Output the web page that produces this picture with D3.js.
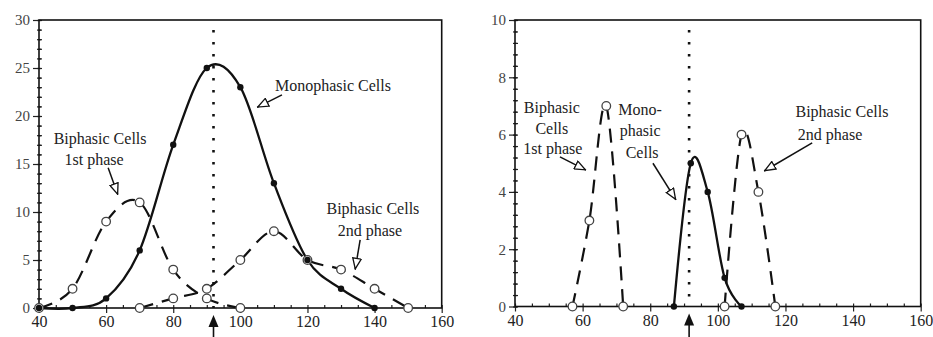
<!DOCTYPE html>
<html>
<head>
<meta charset="utf-8">
<script src="https://cdn.jsdelivr.net/npm/d3@7"></script>
<style>
  body { margin: 0; background: #fff; }
  svg { display: block; font-family: "Liberation Serif", "Times New Roman", serif; }
</style>
</head>
<body>
<svg id="chart" width="933" height="337"></svg>
<script>
// values, [x, y]
var leftMono   = [[40,0],[50,0],[60,1],[70,6],[80,17],[90,25],[100,23],[110,13],[120,5],[130,2],[140,0]];
var leftPhase1 = [[40,0],[50,2],[60,9],[70,11],[80,4],[90,1],[100,0]];
var leftPhase2 = [[70,0],[80,1],[90,2],[100,5],[110,8],[120,5],[130,4],[140,2],[150,0]];

var rightMono   = [[87,0],[92,5],[97,4],[102,1],[107,0]];
var rightPhase1 = [[57,0],[62,3],[67,7],[72,0]];
var rightPhase2 = [[102,0],[107,6],[112,4],[117,0]];

var xTicks = [40,60,80,100,120,140,160];
var leftYTicks = [0,5,10,15,20,25,30];
var rightYTicks = [0,2,4,6,8,10];
var leftMarker = 92, rightMarker = 91.5;

// annotation text lines and arrows (data coordinates)
var leftNotes = [
  {lines: [["Monophasic Cells", 127.6, 23.2]], from: [112.4, 22.2], to: [105.0, 20.9]},
  {lines: [["Biphasic Cells", 58.2, 17.7], ["1st phase", 56.4, 15.5]], from: [60.6, 14.6], to: [63.5, 11.8]},
  {lines: [["Biphasic Cells", 139.5, 10.4], ["2nd phase", 138.6, 8.1]], from: [135.7, 7.1], to: [134.2, 4.0]}
];
var rightNotes = [
  {lines: [["Biphasic", 50.9, 6.96], ["Cells", 50.9, 6.23], ["1st phase", 51.2, 5.53]], from: [53.3, 5.22], to: [61.0, 4.76]},
  {lines: [["Mono-", 77.0, 6.86], ["phasic", 77.0, 6.13], ["Cells", 77.6, 5.39]], from: [80.8, 5.0], to: [87.6, 3.72]},
  {lines: [["Biphasic Cells", 136.7, 6.79], ["2nd phase", 133.2, 5.99]], from: [127.9, 5.71], to: [113.7, 4.73]}
];

var FONT = '"Liberation Serif", "Times New Roman", serif';
var svg = d3.select("#chart");

var defs = svg.append("defs");
defs.append("marker")
  .attr("id", "openhead")
  .attr("viewBox", "0 0 12 10")
  .attr("refX", 12).attr("refY", 5)
  .attr("markerWidth", 12).attr("markerHeight", 10)
  .attr("markerUnits", "userSpaceOnUse")
  .attr("orient", "auto")
  .append("path")
  .attr("d", "M0.7,0.7 L11.3,5 L0.7,9.3 Z")
  .style("fill", "#fff").style("stroke", "#111").style("stroke-width", 1.3);

function drawPanel(cfg){
  var g = svg.append("g");
  var x = d3.scaleLinear().domain([40,160]).range([cfg.left, cfg.right]);
  var y = d3.scaleLinear().domain([0, cfg.yMax]).range([cfg.bottom, cfg.top]);

  // minor ticks
  g.append("g").attr("transform", "translate(0," + cfg.bottom + ")")
    .call(d3.axisBottom(x).tickValues(d3.range(40, 161, 5)).tickSize(-3).tickFormat(""))
    .call(function(a){ a.select(".domain").remove(); });
  g.append("g").attr("transform", "translate(" + cfg.left + ",0)")
    .call(d3.axisLeft(y).tickValues(d3.range(0, cfg.yMax + 0.001, cfg.yMinor)).tickSize(-3).tickFormat(""))
    .call(function(a){ a.select(".domain").remove(); });
  g.append("g").attr("transform", "translate(" + (cfg.left + 2) + ",0)")
    .call(d3.axisLeft(y).tickValues(d3.range(0, cfg.yMax + 0.001, cfg.yMinor)).tickSize(4).tickFormat(""))
    .call(function(a){ a.select(".domain").remove(); });

  // major ticks with labels
  var xa = g.append("g").attr("transform", "translate(0," + cfg.bottom + ")")
    .call(d3.axisBottom(x).tickValues(xTicks).tickSize(5).tickPadding(3));
  xa.select(".domain").remove();
  xa.selectAll("text").style("font-family", FONT).style("font-size", "16px").style("fill", "#222");

  var ya = g.append("g").attr("transform", "translate(" + cfg.left + ",0)")
    .call(d3.axisLeft(y).tickValues(cfg.yTicks).tickSize(6).tickPadding(3));
  ya.select(".domain").remove();
  ya.selectAll("text").style("font-family", FONT).style("font-size", "15px").style("fill", "#444");
  g.selectAll(".tick line").style("stroke", "#222").style("stroke-width", 1.2);

  // frame
  g.append("rect")
    .attr("x", cfg.left).attr("y", cfg.top)
    .attr("width", cfg.right - cfg.left).attr("height", cfg.bottom - cfg.top)
    .style("fill", "none").style("stroke", "#111").style("stroke-width", 1.6);

  // dotted reference line and arrow under the axis
  var mx = x(cfg.marker);
  g.append("line")
    .attr("x1", mx).attr("x2", mx).attr("y1", cfg.top + 10).attr("y2", cfg.bottom)
    .style("stroke", "#111").style("stroke-width", 2.6).style("stroke-dasharray", "2.6,9.4");
  g.append("line")
    .attr("x1", mx).attr("x2", mx).attr("y1", cfg.bottom + 14).attr("y2", 337)
    .style("stroke", "#111").style("stroke-width", 1.6);
  g.append("path")
    .attr("d", "M" + mx + "," + (cfg.bottom + 7) + " l5,12 l-10,0 Z")
    .style("fill", "#111");

  var line = d3.line()
    .x(function(d){ return x(d[0]); })
    .y(function(d){ return y(d[1]); })
    .curve(d3.curveCatmullRom.alpha(0));

  [cfg.phase1, cfg.phase2].forEach(function(s){
    g.append("path").datum(s).attr("d", line)
      .style("fill", "none").style("stroke", "#111").style("stroke-width", 2.2)
      .style("stroke-dasharray", "14,9");
  });
  g.append("path").datum(cfg.mono).attr("d", line)
    .style("fill", "none").style("stroke", "#111").style("stroke-width", 2.3);

  g.append("g").selectAll("circle")
    .data(cfg.phase1.concat(cfg.phase2))
    .enter().append("circle")
    .attr("cx", function(d){ return x(d[0]); })
    .attr("cy", function(d){ return y(d[1]); })
    .attr("r", 4.3)
    .style("fill", "#fff").style("stroke", "#444").style("stroke-width", 1.3);
  g.append("g").selectAll("circle")
    .data(cfg.mono)
    .enter().append("circle")
    .attr("cx", function(d){ return x(d[0]); })
    .attr("cy", function(d){ return y(d[1]); })
    .attr("r", 3.2)
    .style("fill", "#111");

  cfg.notes.forEach(function(n){
    n.lines.forEach(function(l){
      g.append("text")
        .attr("x", x(l[1])).attr("y", y(l[2]))
        .attr("text-anchor", "middle").attr("dominant-baseline", "central")
        .style("font-family", FONT)
        .style("font-size", "16px").style("fill", "#222")
        .text(l[0]);
    });
    g.append("line")
      .attr("x1", x(n.from[0])).attr("y1", y(n.from[1]))
      .attr("x2", x(n.to[0])).attr("y2", y(n.to[1]))
      .attr("marker-end", "url(#openhead)")
      .style("stroke", "#111").style("stroke-width", 1.5);
  });
}

drawPanel({left: 39, right: 441.7, top: 20, bottom: 308, yMax: 30, yMinor: 1,
  yTicks: leftYTicks, marker: leftMarker,
  mono: leftMono, phase1: leftPhase1, phase2: leftPhase2, notes: leftNotes});
drawPanel({left: 515, right: 920.7, top: 20, bottom: 306.5, yMax: 10, yMinor: 0.4,
  yTicks: rightYTicks, marker: rightMarker,
  mono: rightMono, phase1: rightPhase1, phase2: rightPhase2, notes: rightNotes});
</script>
</body>
</html>
